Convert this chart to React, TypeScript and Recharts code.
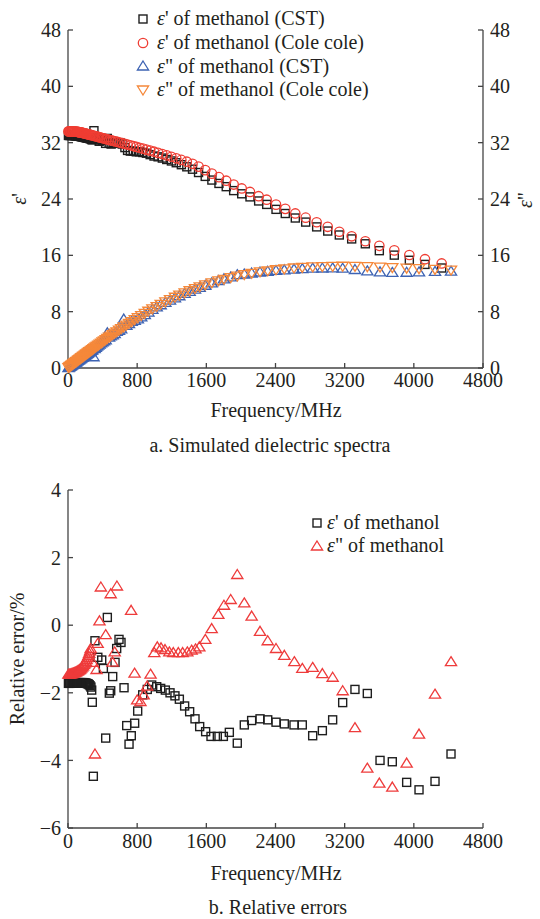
import React from 'react';
import { ScatterChart, Scatter, XAxis, YAxis, Legend } from 'recharts';

const FONT = '"Liberation Serif", "Times New Roman", serif';
const INK = '#231f20';
const AXIS = '#444';

const FREQ_TICKS = [0, 800, 1600, 2400, 3200, 4000, 4800];
const EPS_TICKS = [0, 8, 16, 24, 32, 40, 48];
const ERR_TICKS = [-6, -4, -2, 0, 2, 4];

// (a) ε' of methanol, MHz grid shared by CST and Cole-Cole
const epsRealFreq = [5, 12, 20, 28, 36, 44, 52, 60, 68, 76, 84, 92, 100, 108, 115, 122, 129, 136, 143, 150, 157, 165, 173, 181, 189, 198, 208, 217, 228, 238, 250, 262, 274, 287, 300, 315, 330, 345, 361, 378, 396, 415, 435, 455, 476, 499, 522, 547, 573, 600, 628, 658, 689, 721, 755, 790, 827, 866, 907, 950, 995, 1042, 1091, 1142, 1196, 1252, 1311, 1374, 1440, 1510, 1587, 1664, 1746, 1830, 1916, 2009, 2105, 2205, 2298, 2406, 2513, 2629, 2749, 2876, 3004, 3138, 3281, 3439, 3601, 3774, 3948, 4129, 4322];
const epsRealCole = [33.6, 33.6, 33.6, 33.6, 33.6, 33.6, 33.6, 33.6, 33.59, 33.58, 33.57, 33.56, 33.55, 33.54, 33.53, 33.51, 33.5, 33.48, 33.46, 33.44, 33.42, 33.4, 33.38, 33.35, 33.33, 33.3, 33.27, 33.24, 33.21, 33.18, 33.14, 33.1, 33.06, 33.02, 32.98, 32.93, 32.88, 32.83, 32.78, 32.72, 32.66, 32.6, 32.53, 32.47, 32.4, 32.33, 32.26, 32.18, 32.1, 32.02, 31.93, 31.83, 31.73, 31.63, 31.52, 31.4, 31.28, 31.15, 31.01, 30.87, 30.72, 30.55, 30.38, 30.2, 30.0, 29.78, 29.55, 29.3, 29.0, 28.6, 28.1, 27.6, 27.1, 26.6, 26.05, 25.5, 25.0, 24.4, 23.9, 23.2, 22.6, 21.95, 21.35, 20.7, 20.05, 19.35, 18.7, 18.0, 17.35, 16.7, 16.05, 15.45, 14.85];
const epsRealCst = [33.03, 33.03, 33.03, 33.03, 33.03, 33.03, 33.03, 33.03, 33.02, 33.01, 33.0, 32.99, 32.98, 32.97, 32.96, 32.94, 32.93, 32.91, 32.89, 32.87, 32.85, 32.83, 32.81, 32.78, 32.76, 32.73, 32.7, 32.67, 32.65, 32.62, 32.58, 32.54, 32.43, 32.4, 33.7, 32.7, 32.5, 32.6, 32.2, 32.4, 32.3, 32.5, 31.9, 32.6, 31.9, 31.8, 32.0, 32.0, 31.9, 32.0, 31.8, 31.3, 30.9, 30.8, 30.8, 30.7, 30.7, 30.6, 30.5, 30.3, 30.1, 29.99, 29.81, 29.61, 29.4, 29.15, 28.87, 28.57, 28.23, 27.76, 27.21, 26.69, 26.21, 25.75, 25.19, 24.74, 24.3, 23.72, 23.23, 22.53, 21.94, 21.3, 20.72, 20.04, 19.45, 18.89, 18.33, 17.64, 16.66, 16.03, 15.3, 14.71, 14.2];

// (a) ε'' of methanol, MHz grid shared by CST and Cole-Cole
const epsImagFreq = [6, 16, 26, 36, 46, 56, 66, 76, 86, 96, 106, 116, 126, 136, 146, 156, 166, 176, 186, 196, 206, 216, 226, 237, 248, 259, 270, 282, 295, 308, 322, 336, 350, 366, 383, 400, 417, 436, 455, 475, 494, 517, 540, 563, 590, 615, 645, 675, 705, 737, 772, 808, 847, 888, 930, 976, 1026, 1072, 1126, 1180, 1237, 1288, 1349, 1407, 1469, 1523, 1588, 1662, 1739, 1804, 1882, 1958, 2039, 2124, 2221, 2310, 2406, 2502, 2614, 2710, 2830, 2942, 3061, 3177, 3319, 3462, 3609, 3751, 3917, 4060, 4245, 4430];
const epsImagCole = [0.05, 0.15, 0.24, 0.34, 0.43, 0.52, 0.62, 0.71, 0.8, 0.9, 0.99, 1.08, 1.18, 1.27, 1.36, 1.46, 1.55, 1.64, 1.73, 1.83, 1.92, 2.01, 2.1, 2.21, 2.31, 2.41, 2.51, 2.62, 2.74, 2.86, 2.99, 3.12, 3.24, 3.39, 3.54, 3.7, 3.85, 4.02, 4.19, 4.37, 4.54, 4.74, 4.94, 5.14, 5.37, 5.58, 5.83, 6.08, 6.32, 6.58, 6.86, 7.14, 7.44, 7.75, 8.06, 8.39, 8.73, 9.04, 9.38, 9.71, 10.05, 10.34, 10.67, 10.97, 11.27, 11.52, 11.8, 12.1, 12.38, 12.6, 12.84, 13.05, 13.26, 13.45, 13.65, 13.8, 13.95, 14.07, 14.2, 14.28, 14.36, 14.41, 14.44, 14.45, 14.43, 14.39, 14.33, 14.26, 14.18, 14.1, 14.0, 13.9];
const epsImagCst = [0.05, 0.15, 0.24, 0.34, 0.42, 0.51, 0.61, 0.7, 0.79, 0.89, 0.98, 1.07, 1.17, 1.25, 1.34, 1.44, 1.53, 1.62, 1.71, 1.81, 1.9, 1.99, 2.08, 2.19, 2.29, 2.39, 2.49, 2.59, 1.6, 2.77, 2.95, 3.1, 3.24, 3.4, 3.58, 3.7, 3.84, 4.01, 5.0, 4.39, 4.58, 4.69, 4.9, 5.2, 5.36, 5.55, 6.95, 6.05, 6.3, 6.61, 6.76, 6.98, 7.27, 7.58, 7.94, 8.33, 8.67, 8.98, 9.31, 9.63, 9.97, 10.26, 10.59, 10.89, 11.19, 11.45, 11.75, 12.09, 12.42, 12.67, 12.94, 13.25, 13.35, 13.49, 13.63, 13.74, 13.85, 13.94, 14.05, 14.1, 14.18, 14.2, 14.22, 14.17, 13.99, 13.78, 13.66, 13.58, 13.6, 13.65, 13.71, 13.75];

// (b) relative error of ε', %
const errRealFreq = [5, 15, 25, 35, 45, 55, 65, 75, 85, 95, 105, 115, 125, 135, 145, 155, 165, 175, 185, 195, 205, 215, 225, 235, 245, 255, 265, 274, 281, 293, 312, 345, 390, 409, 436, 455, 478, 494, 517, 544, 563, 590, 613, 648, 679, 706, 732, 771, 806, 864, 917, 968, 1026, 1072, 1126, 1180, 1237, 1288, 1349, 1407, 1469, 1523, 1592, 1654, 1727, 1797, 1866, 1958, 2039, 2124, 2221, 2310, 2406, 2502, 2614, 2710, 2830, 2942, 3061, 3177, 3319, 3462, 3609, 3751, 3917, 4060, 4245, 4430];
const errReal = [-1.72, -1.72, -1.72, -1.71, -1.71, -1.71, -1.71, -1.71, -1.7, -1.7, -1.7, -1.7, -1.7, -1.7, -1.7, -1.7, -1.7, -1.7, -1.7, -1.71, -1.71, -1.72, -1.73, -1.74, -1.76, -1.79, -1.83, -1.92, -2.28, -4.47, -0.46, -0.95, -1.03, -1.28, -3.34, 0.23, -2.01, -1.94, -1.52, -1.1, -0.69, -0.42, -0.51, -1.85, -2.97, -3.52, -3.27, -2.9, -2.54, -2.06, -1.9, -1.77, -1.82, -1.87, -1.92, -2.0, -2.09, -2.19, -2.39, -2.56, -2.77, -3.0, -3.15, -3.29, -3.29, -3.29, -3.17, -3.49, -2.95, -2.82, -2.77, -2.8, -2.87, -2.92, -2.95, -2.95, -3.27, -3.12, -2.8, -2.29, -1.9, -2.02, -4.0, -4.04, -4.65, -4.87, -4.62, -3.81];

// (b) relative error of ε'', %
const errImagFreq = [5, 15, 25, 35, 45, 55, 65, 75, 85, 95, 105, 115, 125, 135, 145, 155, 165, 175, 185, 195, 205, 215, 225, 235, 245, 255, 262, 286, 312, 330, 343, 364, 380, 436, 494, 515, 540, 566, 730, 770, 800, 838, 875, 915, 955, 998, 1033, 1076, 1122, 1172, 1218, 1276, 1326, 1380, 1430, 1475, 1519, 1588, 1662, 1739, 1804, 1882, 1958, 2039, 2124, 2221, 2310, 2406, 2502, 2618, 2710, 2830, 2942, 3061, 3177, 3319, 3462, 3601, 3751, 3917, 4060, 4245, 4430];
const errImag = [-1.45, -1.45, -1.44, -1.44, -1.43, -1.42, -1.41, -1.4, -1.39, -1.38, -1.36, -1.35, -1.33, -1.31, -1.29, -1.26, -1.23, -1.2, -1.16, -1.12, -1.07, -1.02, -0.96, -0.9, -0.83, -0.76, -0.69, -1.1, -3.81, -1.31, -0.54, 0.13, 1.13, -0.28, 0.93, -1.09, -0.79, 1.16, 0.44, -1.42, -2.21, -2.26, -2.06, -1.8, -1.45, -0.81, -0.64, -0.67, -0.72, -0.79, -0.81, -0.81, -0.81, -0.79, -0.74, -0.7, -0.64, -0.42, -0.1, 0.32, 0.59, 0.76, 1.5, 0.66, 0.27, -0.18, -0.46, -0.69, -0.89, -1.08, -1.28, -1.25, -1.43, -1.54, -1.94, -3.03, -4.23, -4.67, -4.79, -4.08, -3.22, -2.04, -1.08];

const zip = (fs: number[], vs: number[]) => fs.map((f, i) => ({ f, v: vs[i] }));

const BLACK = '#1e1e1e';
const RED = '#ef3d33';
const BLUE = '#3d63b3';
const ORANGE = '#f5883a';
const ERR_RED = '#ee3b3b';

type P = { cx?: number; cy?: number };

const square = (c: string) => (p: P) => (
  <rect x={(p.cx ?? 0) - 4} y={(p.cy ?? 0) - 4} width={8} height={8} fill="none" stroke={c} strokeWidth={1.4} />
);
const ring = (c: string) => (p: P) => (
  <circle cx={p.cx} cy={p.cy} r={4.7} fill="none" stroke={c} strokeWidth={1.3} />
);
const triUp = (c: string) => (p: P) => {
  const x = p.cx ?? 0, y = p.cy ?? 0;
  return <path d={`M${x},${y - 5} L${x + 5.6},${y + 4} L${x - 5.6},${y + 4} Z`} fill="none" stroke={c} strokeWidth={1.3} />;
};
const triDown = (c: string) => (p: P) => {
  const x = p.cx ?? 0, y = p.cy ?? 0;
  return <path d={`M${x},${y + 5} L${x + 5.6},${y - 4} L${x - 5.6},${y - 4} Z`} fill="none" stroke={c} strokeWidth={1.3} />;
};

const tickStyle = { fontFamily: FONT, fontSize: 20, fill: INK };
const axisLine = { stroke: AXIS, strokeWidth: 1.3 };
const minus = (v: number) => String(v).replace('-', '\u2212');

type Item = { shape: (p: P) => React.ReactElement; label: React.ReactNode };

const LegendBox = ({ items, rowH, gap }: { items: Item[]; rowH: number; gap: number }) => (
  <div style={{ fontFamily: FONT, fontSize: 20, color: INK }}>
    {items.map((it, i) => (
      <div key={i} style={{ display: 'flex', alignItems: 'center', height: rowH, whiteSpace: 'nowrap' }}>
        <svg width={14} height={14} style={{ marginRight: gap }}>{it.shape({ cx: 7, cy: 7 })}</svg>
        <span>{it.label}</span>
      </div>
    ))}
  </div>
);

const Txt = ({ x, y, rot, size = 20, children }: { x: number; y: number; rot?: boolean; size?: number; children: React.ReactNode }) => (
  <div
    style={{
      position: 'absolute', left: x, top: y, whiteSpace: 'nowrap', lineHeight: 1,
      transform: `translate(-50%, -50%)${rot ? ' rotate(-90deg)' : ''}`,
      fontFamily: FONT, fontSize: size, color: INK,
    }}
  >
    {children}
  </div>
);

const E = () => <i>ε</i>;

const topLegend: Item[] = [
  { shape: square(BLACK), label: <><E />' of methanol (CST)</> },
  { shape: ring(RED), label: <><E />' of methanol (Cole cole)</> },
  { shape: triUp(BLUE), label: <><E />" of methanol (CST)</> },
  { shape: triDown(ORANGE), label: <><E />" of methanol (Cole cole)</> },
];
const bottomLegend: Item[] = [
  { shape: square(BLACK), label: <><E />' of methanol</> },
  { shape: triUp(ERR_RED), label: <><E />" of methanol</> },
];

export default function App() {
  return (
    <div style={{ position: 'relative', width: 540, height: 919, background: '#fff' }}>
      <style>{'body{margin:0}'}</style>

      <div style={{ position: 'absolute', left: 0, top: 0 }}>
        <ScatterChart width={540} height={460} margin={{ top: 30, right: 7, bottom: 62, left: 8 }}>
          <XAxis
            type="number" dataKey="f" domain={[0, 4800]} ticks={FREQ_TICKS} interval={0} height={30}
            tick={tickStyle} axisLine={axisLine} tickLine={axisLine} tickSize={-5} tickMargin={10}
          />
          <YAxis
            yAxisId="l" type="number" dataKey="v" domain={[0, 48]} ticks={EPS_TICKS} interval={0} width={60}
            tick={tickStyle} axisLine={axisLine} tickLine={axisLine} tickSize={-5} tickMargin={12}
          />
          <YAxis
            yAxisId="r" orientation="right" type="number" dataKey="v" domain={[0, 48]} ticks={EPS_TICKS} interval={0} width={50}
            tick={tickStyle} axisLine={axisLine} tickLine={axisLine} tickSize={-5} tickMargin={12}
          />
          <Scatter yAxisId="l" name="e' CST" data={zip(epsRealFreq, epsRealCst)} shape={square(BLACK)} isAnimationActive={false} />
          <Scatter yAxisId="l" name="e' Cole" data={zip(epsRealFreq, epsRealCole)} shape={ring(RED)} isAnimationActive={false} />
          <Scatter yAxisId="r" name="e'' CST" data={zip(epsImagFreq, epsImagCst)} shape={triUp(BLUE)} isAnimationActive={false} />
          <Scatter yAxisId="r" name="e'' Cole" data={zip(epsImagFreq, epsImagCole)} shape={triDown(ORANGE)} isAnimationActive={false} />
          <Legend
            layout="vertical" align="center" verticalAlign="middle"
            wrapperStyle={{ top: 7, left: 136, width: 'auto' }}
            content={() => <LegendBox items={topLegend} rowH={23.7} gap={7} />}
          />
        </ScatterChart>
      </div>

      <div style={{ position: 'absolute', left: 0, top: 460 }}>
        <ScatterChart width={540} height={459} margin={{ top: 30, right: 57, bottom: 61, left: 8 }}>
          <XAxis
            type="number" dataKey="f" domain={[0, 4800]} ticks={FREQ_TICKS} interval={0} height={30}
            tick={tickStyle} axisLine={axisLine} tickLine={axisLine} tickSize={-5} tickMargin={11}
          />
          <YAxis
            type="number" dataKey="v" domain={[-6, 4]} ticks={ERR_TICKS} interval={0} width={60}
            tick={tickStyle} tickFormatter={minus} axisLine={axisLine} tickLine={axisLine} tickSize={-5} tickMargin={12}
          />
          <Scatter name="err e'" data={zip(errRealFreq, errReal)} shape={square(BLACK)} isAnimationActive={false} />
          <Scatter name="err e''" data={zip(errImagFreq, errImag)} shape={triUp(ERR_RED)} isAnimationActive={false} />
          <Legend
            layout="vertical" align="center" verticalAlign="middle"
            wrapperStyle={{ top: 51, left: 310, width: 'auto' }}
            content={() => <LegendBox items={bottomLegend} rowH={23} gap={3} />}
          />
        </ScatterChart>
      </div>

      <Txt x={19} y={199} rot><E />'</Txt>
      <Txt x={525} y={200} rot><E />"</Txt>
      <Txt x={276} y={410}>Frequency/MHz</Txt>
      <Txt x={270} y={445}>a. Simulated dielectric spectra</Txt>

      <Txt x={17} y={659} rot>Relative error/%</Txt>
      <Txt x={276} y={873}>Frequency/MHz</Txt>
      <Txt x={278} y={907}>b. Relative errors</Txt>
    </div>
  );
}
